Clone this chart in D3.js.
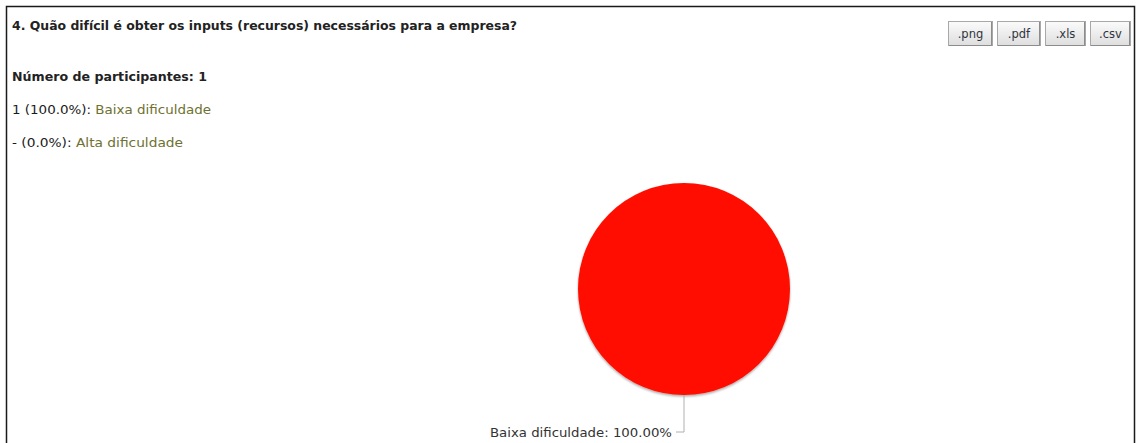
<!DOCTYPE html>
<html>
<head>
<meta charset="utf-8">
<script src="https://cdn.jsdelivr.net/npm/d3@7"></script>
<style>
  body { margin: 0; background: #fff; }
  svg text { font-family: "DejaVu Sans", sans-serif; }
  svg text.cond { font-family: "DejaVu Sans Condensed", "DejaVu Sans", sans-serif; }
</style>
</head>
<body>
<div id="app"></div>
<script>
// data
const question = "4. Quão difícil é obter os inputs (recursos) necessários para a empresa?";
const participants = 1;
const categories = ["Baixa dificuldade", "Alta dificuldade"];
const counts = [1, 0];
const percents = [100.0, 0.0];
const sliceColors = ["#ff1100", "#3366cc"];
const exportButtons = [".png", ".pdf", ".xls", ".csv"];

const W = 1137, H = 443;

const svg = d3.select("#app")
    .append("svg")
    .attr("width", W)
    .attr("height", H);

const defs = svg.append("defs");

const grad = defs.append("linearGradient")
    .attr("id", "btnGrad")
    .attr("x1", 0).attr("y1", 0).attr("x2", 0).attr("y2", 1);
grad.append("stop").attr("offset", "0%").attr("stop-color", "#fbfbfb");
grad.append("stop").attr("offset", "100%").attr("stop-color", "#dedede");

const shadow = defs.append("filter")
    .attr("id", "pieShadow")
    .attr("x", "-20%").attr("y", "-20%")
    .attr("width", "140%").attr("height", "140%");
shadow.append("feDropShadow")
    .attr("dx", 0).attr("dy", 1.5)
    .attr("stdDeviation", 1.2)
    .attr("flood-color", "#000")
    .attr("flood-opacity", 0.35);

// panel border (left, top, right)
svg.append("path")
    .attr("d", "M6.5,443 L6.5,6.5 L1134.5,6.5 L1134.5,443")
    .attr("fill", "none")
    .attr("stroke", "#1a1a1a")
    .attr("stroke-width", 1.5);

// header text
svg.append("text")
    .attr("class", "cond")
    .attr("x", 12).attr("y", 30)
    .attr("font-size", 13)
    .attr("font-weight", "bold")
    .attr("fill", "#222")
    .attr("textLength", 505)
    .attr("lengthAdjust", "spacingAndGlyphs")
    .text(question);

svg.append("text")
    .attr("class", "cond")
    .attr("x", 12).attr("y", 81)
    .attr("font-size", 13)
    .attr("font-weight", "bold")
    .attr("fill", "#222")
    .attr("textLength", 195)
    .attr("lengthAdjust", "spacingAndGlyphs")
    .text("Número de participantes: " + participants);

const fmtPct = d3.format(".1f");
const lineWidths = [199, 171];
const lines = svg.append("g").selectAll("text")
    .data(categories)
    .join("text")
    .attr("x", 12)
    .attr("y", (d, i) => 114 + i * 33)
    .attr("font-size", 12.5)
    .attr("textLength", (d, i) => lineWidths[i])
    .attr("lengthAdjust", "spacingAndGlyphs");

lines.append("tspan")
    .attr("fill", "#1a1a1a")
    .text((d, i) => (counts[i] ? counts[i] : "-") + " (" + fmtPct(percents[i]) + "%): ");
lines.append("tspan")
    .attr("fill", "#6e7130")
    .text(d => d);

// export buttons
const bx = d3.scaleOrdinal()
    .domain(exportButtons)
    .range([948, 997, 1045, 1090]);
const bw = [44, 43, 40, 40];

const btn = svg.append("g").selectAll("g")
    .data(exportButtons)
    .join("g")
    .attr("transform", d => `translate(${bx(d)},21)`);

btn.append("rect")
    .attr("x", 0.5).attr("y", 0.5)
    .attr("width", (d, i) => bw[i])
    .attr("height", 24)
    .attr("fill", "url(#btnGrad)")
    .attr("stroke", "#a8a8a8");
btn.append("path")
    .attr("d", (d, i) => `M${bw[i] - 0.5},1 V24.5 H1`)
    .attr("stroke", "#8c8c8c")
    .attr("fill", "none");
btn.append("text")
    .attr("x", (d, i) => bw[i] / 2 + 0.5)
    .attr("y", 17)
    .attr("text-anchor", "middle")
    .attr("font-size", 11.5)
    .attr("fill", "#2e3440")
    .text(d => d);

// pie
const cx = 684, cy = 289, r = 106;

const pieData = d3.pie()
    .sort(null)
    .value((d, i) => counts[i])(categories);

const arc = d3.arc().innerRadius(0).outerRadius(r);

const pieG = svg.append("g")
    .attr("transform", `translate(${cx},${cy})`);

pieG.selectAll("path")
    .data(pieData.filter(d => d.value > 0))
    .join("path")
    .attr("d", arc)
    .attr("fill", d => sliceColors[d.index])
    .attr("filter", "url(#pieShadow)");

// labels with leader lines
const labelData = pieData.filter(d => d.value > 0);
const fmtLbl = d3.format(".2f");

labelData.forEach(d => {
    const mid = (d.startAngle + d.endAngle) / 2;
    const px = Math.sin(mid) * r, py = -Math.cos(mid) * r;
    const ly = py + 37;
    pieG.append("path")
        .attr("d", `M${px},${py} V${ly} H${px - 8}`)
        .attr("fill", "none")
        .attr("stroke", "#b0b0b0")
        .attr("stroke-width", 1);
    pieG.append("text")
        .attr("x", px - 12)
        .attr("y", ly + 5)
        .attr("text-anchor", "end")
        .attr("font-size", 12)
        .attr("fill", "#333")
        .attr("textLength", 182)
        .attr("lengthAdjust", "spacingAndGlyphs")
        .text(categories[d.index] + ": " + fmtLbl(percents[d.index]) + "%");
});
</script>
</body>
</html>
